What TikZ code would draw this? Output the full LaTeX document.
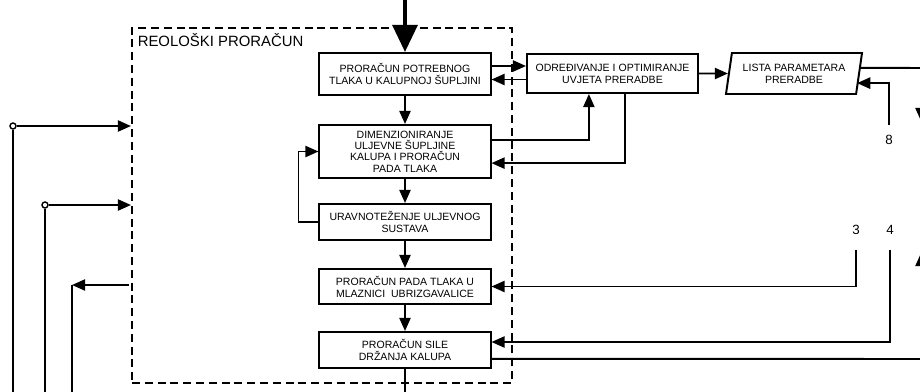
\documentclass[tikz,border=0pt]{standalone}
\usepackage{fontspec}
\setmainfont{Liberation Sans}
\usetikzlibrary{arrows.meta,positioning,shapes.geometric,calc}

\tikzset{
  blok/.style={draw,line width=1.4pt,minimum width=4.275cm,align=center,inner sep=1pt,
    font=\fontsize{7.5}{8.5}\selectfont},
  veza/.style={line width=1.4pt},
  arr/.style={veza,-{Triangle[length=0.33cm,width=0.28cm]}},
  port/.style={circle,draw,line width=1pt,fill=white,inner sep=0pt,minimum size=0.15cm},
  broj/.style={font=\fontsize{9.5}{11}\selectfont,inner sep=1pt},
}

\begin{document}
\begin{tikzpicture}[x=0.025cm,y=-0.025cm]
  \useasboundingbox (0,0) rectangle (920,391);
  \clip (0,0) rectangle (920,391);

  % reoloski proracun
  \node[draw,line width=1.4pt,dash pattern=on 0.2cm off 0.12cm,minimum width=9.5cm,
    minimum height=8.875cm,inner sep=0pt] (reo) at (322,205.5) {};
  \node[anchor=north west,font=\fontsize{10.6}{12}\selectfont,inner sep=0pt] (naslov) at (137.5,33.5)
    {REOLOŠKI PRORAČUN};

  \node[blok,minimum height=1.05cm] (b1) at (405,74) {PRORAČUN POTREBNOG\\TLAKA U KALUPNOJ ŠUPLJINI};
  \node[blok,minimum height=1.325cm,font=\fontsize{7.5}{8}\selectfont] (b2) at (405,151.5)
    {DIMENZIONIRANJE\\ULJEVNE ŠUPLJINE\\KALUPA I PRORAČUN\\PADA TLAKA};
  \node[blok,minimum height=0.9cm] (b3) at (405,222) {URAVNOTEŽENJE ULJEVNOG\\SUSTAVA};
  \node[blok,minimum height=0.875cm] (b4) at (405,286.5) {PRORAČUN PADA TLAKA U\\MLAZNICI\ \ UBRIZGAVALICE};
  \node[blok,minimum height=0.9cm] (b5) at (405,350) {PRORAČUN SILE\\DRŽANJA KALUPA};
  \node[blok,minimum height=0.975cm] (odr) at (612.5,73.5) {ODREĐIVANJE I OPTIMIRANJE\\UVJETA PRERADBE};
  \node[blok,trapezium,trapezium left angle=75,trapezium right angle=105,trapezium stretches body,
    minimum width=3.4cm,minimum height=1.025cm] (lista) at (794,73.5) {LISTA PARAMETARA\\PRERADBE};

  % glavni tok
  \coordinate (ulaz) at (405,0);
  \draw[line width=0.1cm,-{Triangle[length=0.68cm,width=0.62cm]}] (ulaz) -- (b1.north);
  \foreach \a/\b in {b1/b2,b2/b3,b3/b4,b4/b5}
    \draw[arr] (\a.south) -- (\b.north);
  \coordinate (izlaz) at (405,395);
  \draw[veza] (b5.south) -- (izlaz);
  \draw[arr] (b3.west) -- ++(-20,0) |- (b2.west);

  % odredivanje uvjeta
  \draw[arr] ([yshift=0.2cm]b1.east) -- ([yshift=0.2cm]b1.east -| odr.west);
  \draw[arr] ([yshift=-0.15cm]odr.west) -- ([yshift=-0.15cm]odr.west -| b1.east);
  \draw[arr] ([yshift=0.29cm]b2.east) -| ([xshift=-0.59cm]odr.south);
  \draw[arr] ([xshift=0.31cm]odr.south) |- ([yshift=-0.29cm]b2.east);
  \draw[arr] (odr.east) -- (lista);

  % desna strana
  \coordinate (desno1) at (925,68);
  \draw[veza] ([yshift=0.14cm]lista.east) -- (desno1);
  \node[broj] (n8) at (889,140) {8};
  \draw[arr] ([yshift=0.38cm]n8.center) |- ([shift={(-0.075cm,-0.24cm)}]lista.east);
  \node[broj] (n3) at (856,230) {3};
  \node[broj] (n4) at (890,230) {4};
  \draw[arr] ([yshift=-0.5cm]n3.center) |- (b4.east);
  \draw[arr] ([yshift=-0.5cm]n4.center) |- ([yshift=0.2cm]b5.east);
  \coordinate (desno2) at (925,359);
  \draw[veza] ([yshift=-0.22cm]b5.east) -- (desno2);
  \coordinate (rubA) at (921,90);
  \coordinate (rubB) at (921,121);
  \draw[arr] (rubA) -- (rubB);
  \coordinate (rubC) at (921,300);
  \coordinate (rubD) at (921,253);
  \draw[arr] (rubC) -- (rubD);

  % lijeva strana
  \node[port] (p1) at (13,126) {};
  \node[port] (p2) at (45,205) {};
  \coordinate (p3) at (72,285);
  \coordinate (dno1) at (13,395);
  \coordinate (dno2) at (45,395);
  \coordinate (dno3) at (72,395);
  \draw[veza] (p1) -- (dno1);
  \draw[arr] (p1) -- (p1 -| reo.west);
  \draw[veza] (p2) -- (dno2);
  \draw[arr] (p2) -- (p2 -| reo.west);
  \draw[arr] ([xshift=-0.05cm]p3 -| reo.west) -- (p3);
  \draw[veza] (p3) -- (dno3);
\end{tikzpicture}
\end{document}
